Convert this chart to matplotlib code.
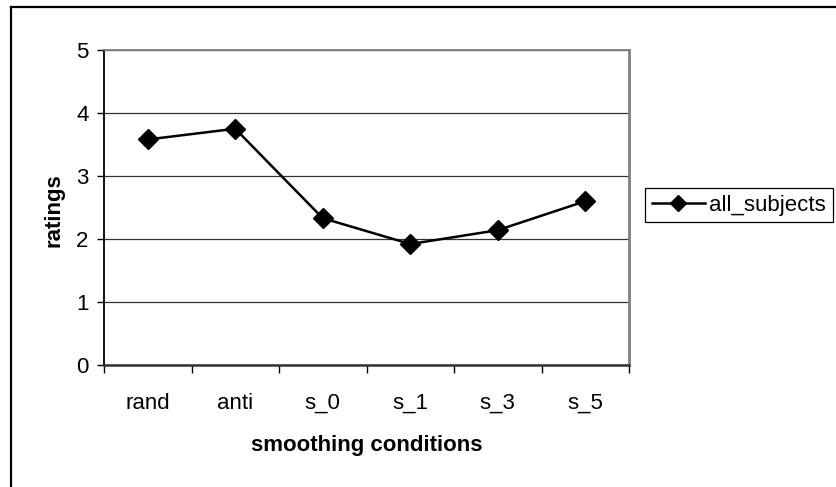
import numpy as np
import matplotlib.pyplot as plt
from matplotlib.lines import Line2D

# Данные
conditions = ['rand', 'anti', 's_0', 's_1', 's_3', 's_5']
ratings = [3.58, 3.75, 2.33, 1.92, 2.14, 2.60]
y_ticks = [0, 1, 2, 3, 4, 5]

plt.rcParams['font.family'] = ['Liberation Sans', 'DejaVu Sans']

W, H = 837, 487
fig = plt.figure(figsize=(W / 100, H / 100), dpi=100)
ax = fig.add_axes([104 / W, 1 - 365 / H, (629 - 104) / W, (365 - 50) / H])

x = np.arange(len(conditions))
ax.plot(x, ratings, color='black', linewidth=1.8, marker='D', markersize=10,
        label='all_subjects', zorder=3, clip_on=False)

ax.set_xlim(-0.5, len(conditions) - 0.5)
ax.set_ylim(0, 5)
ax.set_yticks(y_ticks)
ax.set_xticks(x)
ax.set_xticklabels(conditions)
ax.set_xticks(np.arange(-0.5, len(conditions)), minor=True)

ax.tick_params(axis='x', which='major', length=0, pad=20, labelsize=16)
ax.tick_params(axis='x', which='minor', length=6, width=1, direction='out')
ax.tick_params(axis='y', length=5, width=1, direction='out', pad=6, labelsize=16)

ax.grid(axis='y', color='#333333', linewidth=0.9)
ax.set_axisbelow(True)

ax.spines['left'].set_color('black')
ax.spines['left'].set_linewidth(1.3)
ax.spines['bottom'].set_color('#333333')
ax.spines['bottom'].set_linewidth(1.8)
ax.spines['top'].set_color('#808080')
ax.spines['top'].set_linewidth(1.2)
ax.spines['right'].set_color('#808080')
ax.spines['right'].set_linewidth(2)

fig.text(54 / W, 1 - 210 / H, 'ratings', rotation=90, ha='center', va='center',
         fontsize=16, fontweight='bold')
fig.text(367 / W, 1 - 446 / H, 'smoothing conditions', ha='center', va='center',
         fontsize=16, fontweight='bold')

leg = fig.legend(loc='upper left', bbox_to_anchor=(645 / W, 1 - 188 / H),
                 borderaxespad=0, fancybox=False, framealpha=1, edgecolor='black',
                 fontsize=16, handlelength=2.4, handletextpad=0.2,
                 borderpad=0.3, markerscale=0.8)
leg.get_frame().set_linewidth(0.9)

# рамка вокруг всей диаграммы
fig.add_artist(Line2D([11 / W, 11 / W], [0, 1 - 7 / H], color='black', linewidth=1.6))
fig.add_artist(Line2D([11 / W, 1], [1 - 7 / H, 1 - 7 / H], color='black', linewidth=1.6))

fig.savefig('out.png', dpi=100)
